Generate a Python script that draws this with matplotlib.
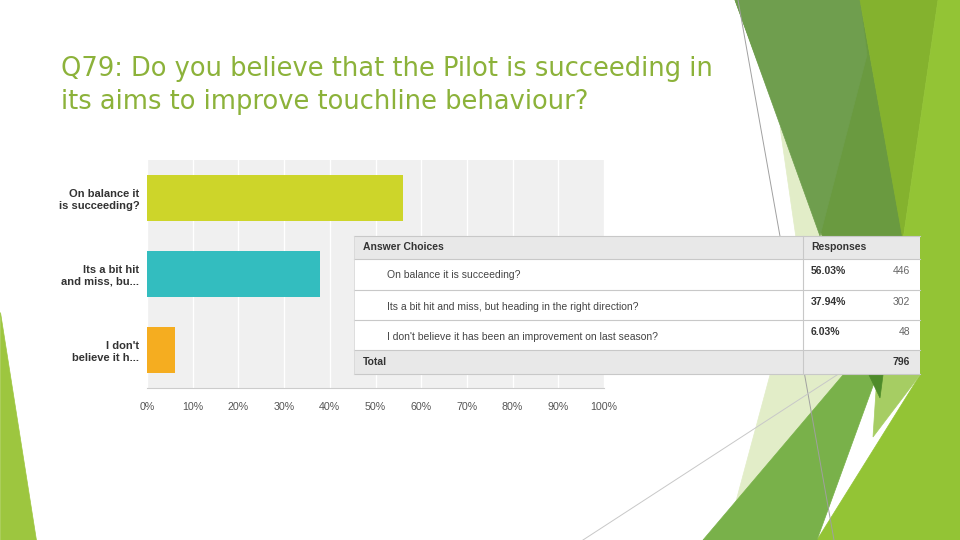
import matplotlib.pyplot as plt
from matplotlib.patches import Polygon, Rectangle
import numpy as np

# survey data
short_labels = ["On balance it\nis succeeding?", "Its a bit hit\nand miss, bu...", "I don't\nbelieve it h..."]
answers = ["On balance it is succeeding?",
           "Its a bit hit and miss, but heading in the right direction?",
           "I don't believe it has been an improvement on last season?"]
percents = [56.03, 37.94, 6.03]
counts = [446, 302, 48]
total = 796
bar_colors = ["#CDD52A", "#33BDBF", "#F5AD20"]
xticks = [0, 10, 20, 30, 40, 50, 60, 70, 80, 90, 100]
title = "Q79: Do you believe that the Pilot is succeeding in\nits aims to improve touchline behaviour?"

W, H = 960, 540
fig = plt.figure(figsize=(9.6, 5.4), dpi=100)
fig.patch.set_facecolor("white")

# background decoration, pixel coordinates
bg = fig.add_axes([0, 0, 1, 1], zorder=0)
bg.set_xlim(0, W)
bg.set_ylim(H, 0)
bg.axis("off")
shapes = [
    ([(0, 312), (0, 540), (36, 540)], "#9DC63F"),
    ([(780, 127), (822, 236), (850, 375), (735, 505), (770, 375), (805, 300)], "#E2EDC8"),
    ([(735, 0), (860, 0), (903, 238), (882, 398)], "#6A9A40"),
    ([(735, 0), (860, 0), (867, 55), (820, 236)], "#6F9E4E"),
    ([(860, 0), (938, 0), (903, 240)], "#84B22E"),
    ([(938, 0), (960, 0), (960, 540), (817, 540), (920, 375), (903, 240)], "#93C435"),
    ([(843, 375), (877, 375), (817, 540), (703, 540)], "#79B14A"),
    ([(877, 375), (920, 375), (873, 437)], "#A6CD63"),
    ([(869, 375), (883, 375), (880, 398)], "#4E8B2A"),
]
for pts, col in shapes:
    bg.add_patch(Polygon(pts, closed=True, facecolor=col, edgecolor=col, lw=0.5))
bg.plot([738, 834], [0, 540], color="#A0A0A0", lw=0.7)
bg.plot([583, 840], [540, 373], color="#C8C8C8", lw=0.7)

fig.text(61 / W, 1 - 56 / H, title, color="#8CB23A", fontsize=18.5,
         family="DejaVu Sans", va="top", ha="left", linespacing=1.36)

# bar chart
ax = fig.add_axes([147 / W, 1 - 388 / H, 457 / W, 228 / H], zorder=1)
ax.set_facecolor("#F0F0F0")
y = np.arange(len(percents))
ax.barh(y, percents, height=0.6, color=bar_colors, zorder=3)
ax.set_xlim(0, 100)
ax.set_ylim(2.5, -0.5)
ax.set_xticks(xticks)
ax.set_xticklabels([f"{t}%" for t in xticks], fontsize=7.7, color="#555555",
                   family="Liberation Sans")
ax.set_yticks(y)
ax.set_yticklabels(short_labels, fontsize=8, fontweight="bold", color="#333333",
                   family="Liberation Sans")
ax.tick_params(axis="x", length=0, pad=10)
ax.tick_params(axis="y", length=0, pad=5.5)
ax.grid(axis="x", color="white", lw=1, zorder=1)
for s in ["top", "right", "left"]:
    ax.spines[s].set_visible(False)
ax.spines["bottom"].set_color("#CCCCCC")

# answer table overlay
ov = fig.add_axes([0, 0, 1, 1], zorder=2)
ov.set_xlim(0, W)
ov.set_ylim(H, 0)
ov.axis("off")
tx0, tx1, tsep = 354, 920, 803
rows_y = [236, 259, 290, 320, 350, 374]
ov.add_patch(Rectangle((tx0, rows_y[0]), tx1 - tx0, rows_y[-1] - rows_y[0],
                       facecolor="white", edgecolor="none"))
ov.add_patch(Rectangle((tx0, rows_y[0]), tx1 - tx0, rows_y[1] - rows_y[0],
                       facecolor="#E8E8E8", edgecolor="none"))
ov.add_patch(Rectangle((tx0, rows_y[4]), tx1 - tx0, rows_y[5] - rows_y[4],
                       facecolor="#E8E8E8", edgecolor="none"))
for ry in rows_y:
    ov.plot([tx0, tx1], [ry, ry], color="#C8C8C8", lw=0.8)
ov.plot([tsep, tsep], [rows_y[0], rows_y[-1]], color="#C8C8C8", lw=0.8)
ov.plot([tx0, tx0], [rows_y[0], rows_y[-1]], color="#D8D8D8", lw=0.6)

tfont = dict(family="Liberation Sans", fontsize=7.5)
ov.text(363, 247.5, "Answer Choices", fontweight="bold", color="#333333", va="center", **tfont)
ov.text(811, 247.5, "Responses", fontweight="bold", color="#333333", va="center", **tfont)
for i, (a, p, c) in enumerate(zip(answers, percents, counts)):
    top = rows_y[i + 1]
    ov.text(387, top + 16.5, a, color="#444444", va="center", **tfont)
    ov.text(811, top + 12, f"{p:.2f}%", fontweight="bold", color="#333333", va="center", **tfont)
    ov.text(910, top + 12, str(c), color="#666666", va="center", ha="right", **tfont)
ov.text(363, 362, "Total", fontweight="bold", color="#333333", va="center", **tfont)
ov.text(910, 362, str(total), fontweight="bold", color="#333333", va="center", ha="right", **tfont)

fig.savefig("out.png", dpi=100)
